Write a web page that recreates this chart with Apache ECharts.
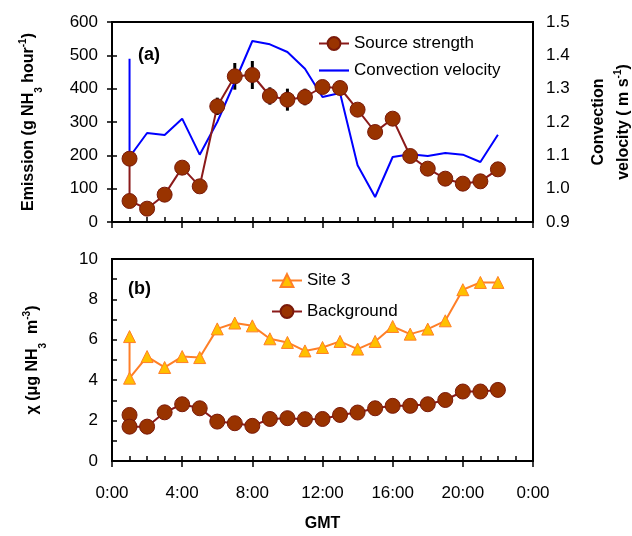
<!DOCTYPE html>
<html>
<head>
    <meta charset="utf-8">
    <title>emission</title>
    <style>
        body { margin: 0; background: #fff; }
    </style>
</head>
<body>
    <div id="main" style="width: 632px;height:536px;"></div>
    <script src="https://cdn.jsdelivr.net/npm/echarts@6/dist/echarts.min.js"></script>
    <script>
        var myChart = echarts.init(document.getElementById('main'));

        // hour of day (first hour has two records)
        var hours = [1, 1, 2, 3, 4, 5, 6, 7, 8, 9, 10, 11, 12, 13, 14, 15, 16, 17, 18, 19, 20, 21, 22];
        var sourceStrength = [190, 63, 40, 82, 163, 107, 347, 437, 441, 378, 367, 375, 405, 402, 337, 270, 310, 198, 160, 130, 115, 122, 158];
        var convection = [1.39, 1.095, 1.167, 1.161, 1.21, 1.102, 1.20, 1.32, 1.443, 1.433, 1.41, 1.36, 1.275, 1.287, 1.07, 0.975, 1.095, 1.103, 1.098, 1.107, 1.102, 1.08, 1.162];
        var site3 = [6.16, 4.1, 5.17, 4.63, 5.17, 5.12, 6.54, 6.83, 6.69, 6.05, 5.87, 5.45, 5.62, 5.92, 5.54, 5.92, 6.66, 6.28, 6.53, 6.94, 8.48, 8.84, 8.84];
        var background = [2.28, 1.70, 1.70, 2.41, 2.81, 2.61, 1.95, 1.87, 1.74, 2.08, 2.12, 2.07, 2.08, 2.28, 2.40, 2.61, 2.73, 2.73, 2.81, 3.02, 3.44, 3.44, 3.52];
        // error bars on source strength
        var errHours = [6, 7, 8, 9, 10, 11];
        var errMean = [347, 437, 441, 378, 367, 375];
        var errSize = [26, 40, 42, 26, 33, 25];

        function pairs(ys) {
            return hours.map(function (h, i) { return [h, ys[i]]; });
        }
        var errData = errHours.map(function (h, i) {
            return [h, errMean[i] - errSize[i], errMean[i] + errSize[i]];
        });

        var font = 'Liberation Sans, Arial, sans-serif';
        var black = '#000';
        var lbl = { color: black, fontSize: 17, fontFamily: font };
        var nameRich = {
            b: { fontSize: 16, fontWeight: 'bold', fontFamily: font, color: black, lineHeight: 25 },
            s: { fontSize: 10, fontWeight: 'bold', fontFamily: font, color: black, verticalAlign: 'bottom', lineHeight: 25, padding: [0, 0, -3, 0] },
            p: { fontSize: 10, fontWeight: 'bold', fontFamily: font, color: black, verticalAlign: 'top', lineHeight: 25, padding: [2, 0, 0, 0] }
        };

        function minorX(grid) {
            return {
                type: 'value', gridIndex: grid, position: 'bottom', min: 0, max: 24, interval: 1,
                axisLine: { lineStyle: { color: black, width: 2 } },
                axisTick: { inside: true, length: 5, lineStyle: { color: black, width: 1.5 } },
                axisLabel: { show: false },
                splitLine: { show: false }
            };
        }
        function majorX(grid, labels) {
            return {
                type: 'value', gridIndex: grid, position: 'bottom', min: 0, max: 24, interval: 4,
                axisLine: { lineStyle: { color: black, width: 2 } },
                axisTick: { inside: false, length: 6, lineStyle: { color: black, width: 1.5 } },
                axisLabel: {
                    show: labels, margin: 24, color: black, fontSize: 17, fontFamily: font,
                    formatter: function (v) { return (v % 24) + ':00'; }
                },
                splitLine: { show: false },
                name: labels ? 'GMT' : '',
                nameLocation: 'middle',
                nameGap: 55,
                nameTextStyle: { fontSize: 16, fontWeight: 'bold', fontFamily: font, color: black }
            };
        }
        function yTick() {
            return { inside: true, length: 5, lineStyle: { color: black, width: 1.5 } };
        }

        option = {
            backgroundColor: '#fff',
            animation: false,
            title: [
                { text: '(a)', left: 138, top: 46, padding: 0, textStyle: { fontSize: 18, fontWeight: 'bold', fontFamily: font, color: black } },
                { text: '(b)', left: 128, top: 280, padding: 0, textStyle: { fontSize: 18, fontWeight: 'bold', fontFamily: font, color: black } }
            ],
            legend: [{
                data: ['Source strength', {
                    name: 'Convection velocity',
                    icon: 'path://M0,0 L30,0 L30,2.2 L0,2.2 Z',
                    itemStyle: { color: '#0000ff' }
                }],
                orient: 'vertical', left: 318, top: 35, padding: 0,
                itemWidth: 30, itemHeight: 16, itemGap: 10,
                textStyle: { fontSize: 17, fontFamily: font, color: black }
            }, {
                data: ['Site 3', 'Background'],
                orient: 'vertical', left: 271, top: 272, padding: 0,
                itemWidth: 30, itemHeight: 16, itemGap: 14,
                textStyle: { fontSize: 17, fontFamily: font, color: black }
            }],
            grid: [
                { left: 112, top: 22, width: 421, height: 200, outerBoundsMode: 'none', show: true, borderColor: black, borderWidth: 2, backgroundColor: 'transparent' },
                { left: 112, top: 259, width: 421, height: 202, outerBoundsMode: 'none', show: true, borderColor: black, borderWidth: 2, backgroundColor: 'transparent' }
            ],
            xAxis: [minorX(0), majorX(0, false), minorX(1), majorX(1, true)],
            yAxis: [{
                type: 'value', gridIndex: 0, min: 0, max: 600, interval: 100,
                axisLine: { show: true, lineStyle: { color: black, width: 2 } },
                axisTick: yTick(),
                axisLabel: Object.assign({ margin: 14 }, lbl),
                splitLine: { show: false },
                name: '{b|Emission (g NH}{s|3}{b| hour}{p|-1}{b|)}',
                nameLocation: 'middle', nameRotate: 90, nameGap: 71,
                nameTextStyle: { rich: nameRich }
            }, {
                type: 'value', gridIndex: 0, position: 'right', min: 0.9, max: 1.5, interval: 0.1,
                axisLine: { show: true, lineStyle: { color: black, width: 2 } },
                axisTick: yTick(),
                axisLabel: Object.assign({ margin: 13, formatter: function (v) { return v.toFixed(1); } }, lbl),
                splitLine: { show: false },
                name: '{b|Convection}\n{b|velocity ( m s}{p|-1}{b|)}',
                nameLocation: 'middle', nameRotate: 90, nameGap: 53,
                nameTextStyle: { rich: nameRich, align: 'center' }
            }, {
                type: 'value', gridIndex: 1, min: 0, max: 10, interval: 2,
                axisLine: { show: true, lineStyle: { color: black, width: 2 } },
                axisTick: yTick(),
                minorTick: { show: true, splitNumber: 2, length: 5, lineStyle: { color: black, width: 1.5 } },
                axisLabel: Object.assign({ margin: 14 }, lbl),
                splitLine: { show: false },
                name: '{b|\u03c7 (\u03bcg NH}{s|3}{b|  m}{p|-3}{b|)}',
                nameLocation: 'middle', nameRotate: 90, nameGap: 67,
                nameTextStyle: { rich: nameRich }
            }],
            series: [{
                name: 'errors',
                type: 'custom',
                xAxisIndex: 0, yAxisIndex: 0,
                z: 1,
                data: errData,
                renderItem: function (params, api) {
                    var lo = api.coord([api.value(0), api.value(1)]);
                    var hi = api.coord([api.value(0), api.value(2)]);
                    return {
                        type: 'line',
                        shape: { x1: lo[0], y1: lo[1], x2: hi[0], y2: hi[1] },
                        style: { stroke: '#000', lineWidth: 3 }
                    };
                }
            }, {
                name: 'Convection velocity',
                type: 'line',
                xAxisIndex: 0, yAxisIndex: 1,
                z: 2,
                symbol: 'none',
                lineStyle: { color: '#0000ff', width: 2 },
                itemStyle: { color: '#0000ff' },
                data: pairs(convection)
            }, {
                name: 'Source strength',
                type: 'line',
                xAxisIndex: 0, yAxisIndex: 0,
                z: 3,
                symbol: 'circle', symbolSize: 15,
                lineStyle: { color: '#8b1a1a', width: 2 },
                itemStyle: { color: '#993300', borderColor: '#7a1a0a', borderWidth: 1 },
                data: pairs(sourceStrength)
            }, {
                name: 'Site 3',
                type: 'line',
                xAxisIndex: 2, yAxisIndex: 2,
                z: 3,
                symbol: 'triangle', symbolSize: 12,
                lineStyle: { color: '#ff7f27', width: 2 },
                itemStyle: { color: '#ffc000', borderColor: '#ff7f27', borderWidth: 1 },
                data: pairs(site3)
            }, {
                name: 'Background',
                type: 'line',
                xAxisIndex: 2, yAxisIndex: 2,
                z: 3,
                symbol: 'circle', symbolSize: 15,
                lineStyle: { color: '#8b1a1a', width: 2 },
                itemStyle: { color: '#993300', borderColor: '#7a1a0a', borderWidth: 1 },
                data: pairs(background)
            }]
        };

        myChart.setOption(option);
    </script>
</body>
</html>
